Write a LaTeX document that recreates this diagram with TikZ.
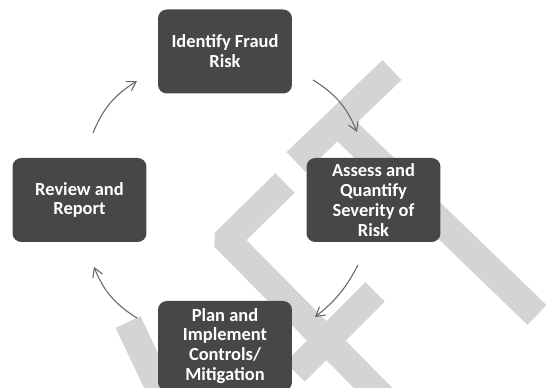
\documentclass[tikz,border=0pt]{standalone}
\usepackage{fontspec}
\setmainfont{Carlito}
\usepackage{tikz}
\usetikzlibrary{arrows.meta, positioning}

\begin{document}
\begin{tikzpicture}[x=0.02cm, y=0.02cm,
        stagebox/.style={rectangle, rounded corners=5pt, fill=black!72, text=white,
            font=\fontsize{10.5}{11.3}\selectfont\bfseries, align=center,
            minimum width=2.68cm, minimum height=1.68cm, inner sep=2pt},
        band/.style={line width=0.55cm, draw=black!17, line cap=butt, line join=miter, rounded corners=1pt},
        cycarrow/.style={draw=black!60, semithick, -{Straight Barb[length=5pt, width=6pt]}}]
        \useasboundingbox (0,0) rectangle (549,388);

        % watermark bands
        \draw [band] (392,318) -- (296,226);
        \draw [band] (335,268) -- (537,73);
        \draw [band] (285,205) -- (227,148) -- (385,-12);
        \draw [band] (375,96) -- (295,16);
        \draw [band] (128,66) -- (165,-12);

        \node[stagebox] at (225,336.5) (idrisk) {Identify Fraud\\Risk};
        \node[stagebox] at (373.5,188) (assess) {Assess and\\Quantify\\Severity of\\Risk};
        \node[stagebox, minimum height=1.8cm] at (225,42) (plan) {Plan and\\Implement\\Controls/\\Mitigation};
        \node[stagebox] at (79.5,188) (review) {Review and\\Report};

        \coordinate (a1s) at (93,255);
        \coordinate (a1e) at (137,307);
        \coordinate (a2s) at (313,308);
        \coordinate (a2e) at (357,256);
        \coordinate (a3s) at (358,123);
        \coordinate (a3e) at (315,71);
        \coordinate (a4s) at (137,70);
        \coordinate (a4e) at (94,121);
        \draw [cycarrow] (a1s) to[bend left=18] (a1e);
        \draw [cycarrow] (a2s) to[bend left=18] (a2e);
        \draw [cycarrow] (a3s) to[bend left=12] (a3e);
        \draw [cycarrow] (a4s) to[bend left=18] (a4e);
    \end{tikzpicture}
\end{document}
